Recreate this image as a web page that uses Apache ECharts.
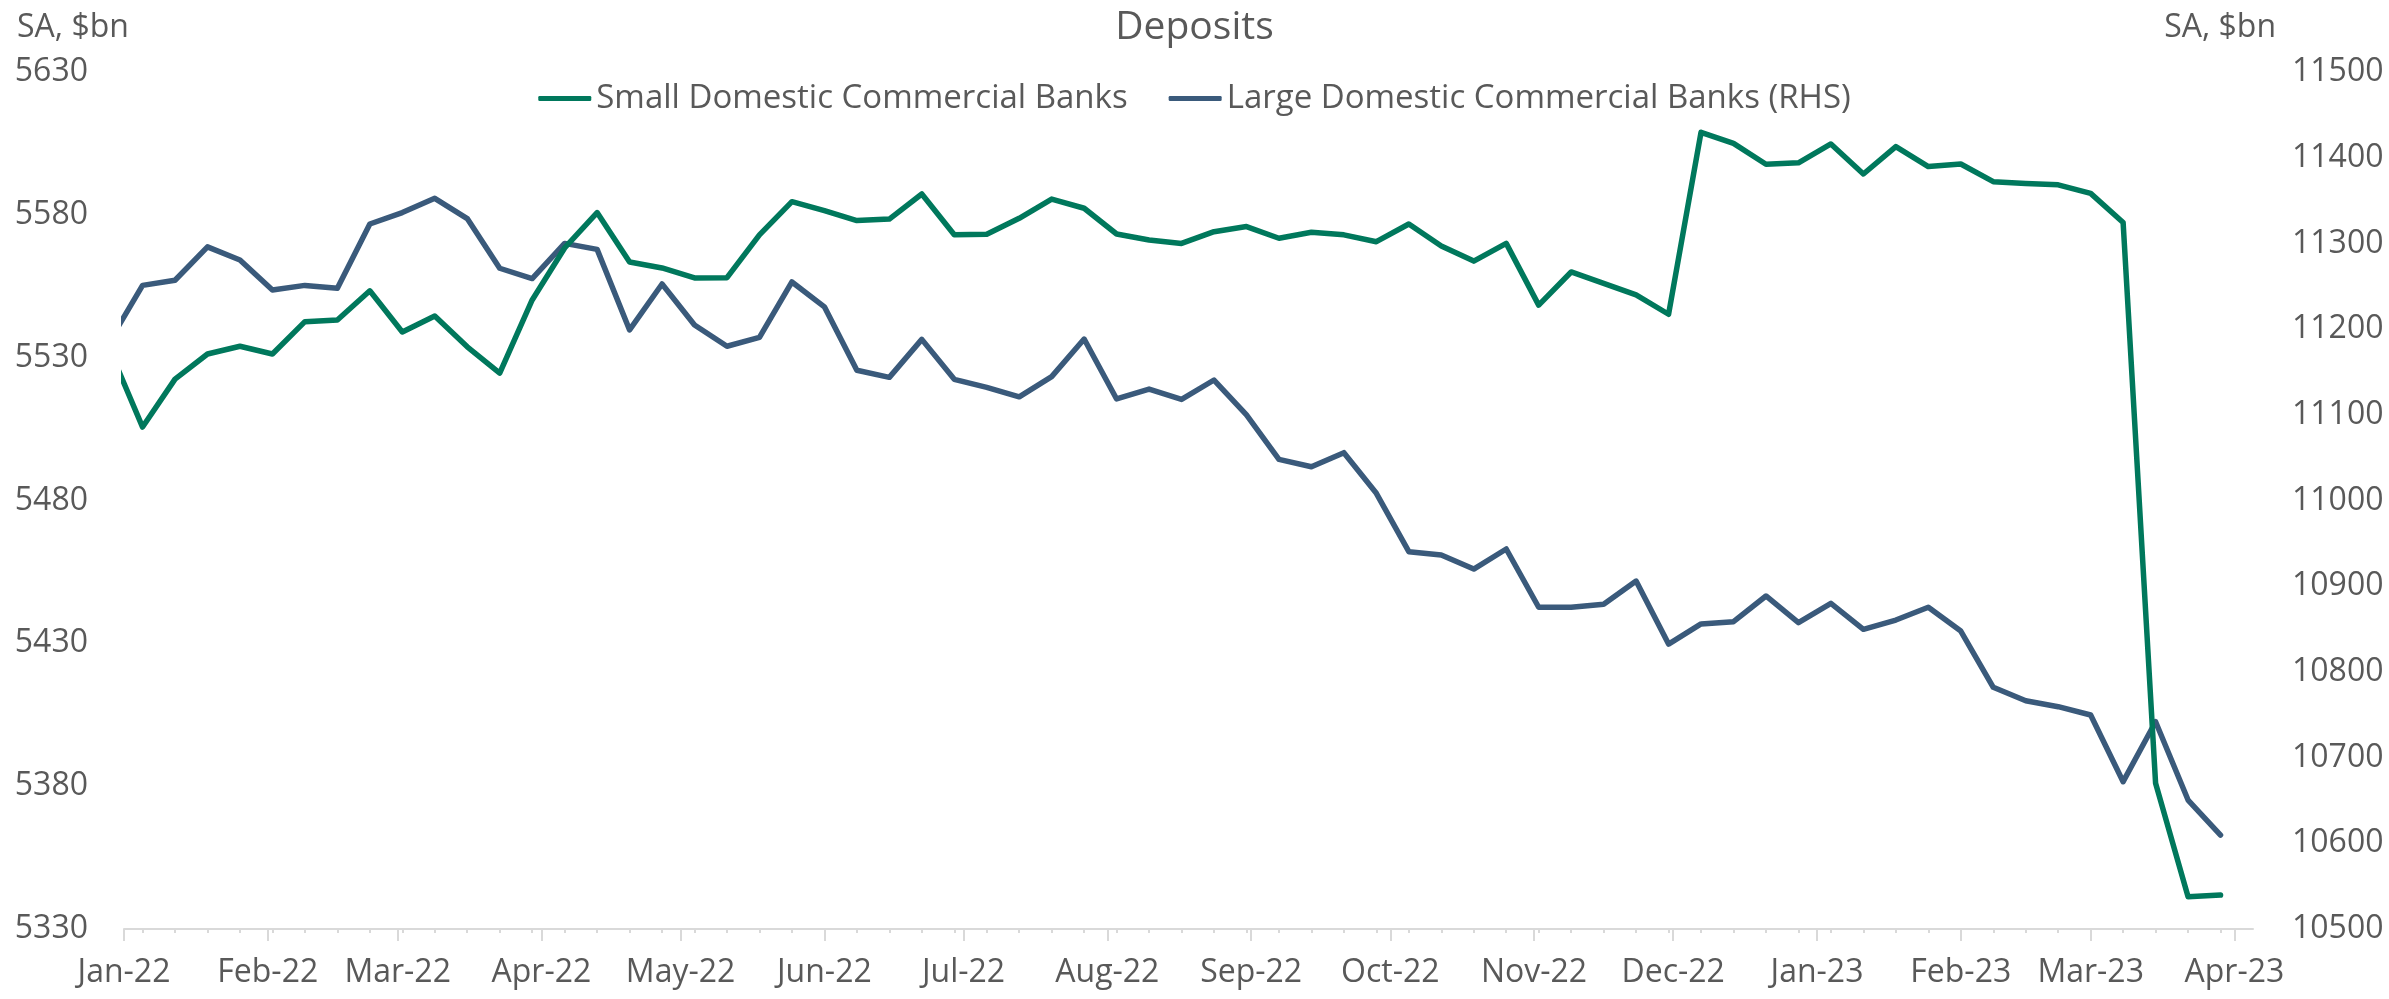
<!DOCTYPE html>
<html><head><meta charset="utf-8">
<script src="https://cdn.jsdelivr.net/npm/echarts@6/dist/echarts.min.js"></script>
<style>html,body{margin:0;padding:0;background:#fff}#c{width:2389px;height:999px}</style>
</head><body><div id="c"></div>
<script>
// ---- Data (weekly, Wednesdays; $bn, seasonally adjusted) ----
const weekDates = ['2021-12-29','2022-01-05','2022-01-12','2022-01-19','2022-01-26','2022-02-02','2022-02-09','2022-02-16','2022-02-23','2022-03-02','2022-03-09','2022-03-16','2022-03-23','2022-03-30','2022-04-06','2022-04-13','2022-04-20','2022-04-27','2022-05-04','2022-05-11','2022-05-18','2022-05-25','2022-06-01','2022-06-08','2022-06-15','2022-06-22','2022-06-29','2022-07-06','2022-07-13','2022-07-20','2022-07-27','2022-08-03','2022-08-10','2022-08-17','2022-08-24','2022-08-31','2022-09-07','2022-09-14','2022-09-21','2022-09-28','2022-10-05','2022-10-12','2022-10-19','2022-10-26','2022-11-02','2022-11-09','2022-11-16','2022-11-23','2022-11-30','2022-12-07','2022-12-14','2022-12-21','2022-12-28','2023-01-04','2023-01-11','2023-01-18','2023-01-25','2023-02-01','2023-02-08','2023-02-15','2023-02-22','2023-03-01','2023-03-08','2023-03-15','2023-03-22','2023-03-29'];

const smallBanks = [5532.5,5505.7,5522.5,5531.3,5534.0,5531.3,5542.6,5543.2,5553.4,5539.0,5544.6,5533.8,5524.6,5550.2,5568.4,5580.8,5563.5,5561.4,5557.9,5558.0,5573.0,5584.6,5581.5,5578.0,5578.5,5587.3,5573.0,5573.2,5578.8,5585.5,5582.3,5573.3,5571.2,5570.0,5574.1,5575.9,5571.8,5573.9,5573.0,5570.6,5576.8,5569.1,5563.8,5570.0,5548.4,5560.0,5556.0,5552.0,5545.2,5608.9,5605.0,5597.7,5598.2,5604.8,5594.3,5603.9,5596.9,5597.8,5591.6,5591.0,5590.5,5587.5,5577.3,5381.0,5341.3,5341.9];

const largeBanks = [11187,11251,11257,11296,11280.6,11245.6,11251,11247.6,11322.6,11336,11352.6,11329,11271,11259,11300,11293,11199,11252.6,11204.8,11180,11190.4,11255,11226,11152,11143.7,11188,11141.4,11132,11121,11144.5,11188.4,11118.5,11130,11118,11140.6,11099.8,11048,11039.4,11055.8,11008.4,10940.3,10936.4,10920,10943.4,10875.4,10875.4,10879,10906,10832.5,10856,10858.6,10888.6,10857.4,10880,10849.7,10860.5,10875.4,10847.7,10782,10766.4,10759.4,10749.7,10671.9,10741.9,10650.5,10609.6];

const monthTicks = ['2022-01-01','2022-02-01','2022-03-01','2022-04-01','2022-05-01','2022-06-01','2022-07-01','2022-08-01','2022-09-01','2022-10-01','2022-11-01','2022-12-01','2023-01-01','2023-02-01','2023-03-01','2023-04-01'];
const monthLabels = ['Jan-22','Feb-22','Mar-22','Apr-22','May-22','Jun-22','Jul-22','Aug-22','Sep-22','Oct-22','Nov-22','Dec-22','Jan-23','Feb-23','Mar-23','Apr-23'];

const seriesNames = ['Small Domestic Commercial Banks', 'Large Domestic Commercial Banks (RHS)'];
const axisStart = '2022-01-01';
const axisEnd = '2023-04-05';

// ---- helpers ----
function ts(s){ const p = s.split('-').map(Number); return Date.UTC(p[0], p[1]-1, p[2]); }
const monthTs = monthTicks.map(ts);
const xMin = ts(axisStart), xMax = ts(axisEnd);
const weekTs = weekDates.map(ts).filter(t => t >= xMin && t <= xMax);

const GREEN = '#00785C', BLUE = '#3A5A7B', TXT = '#595959', AX = '#D9D9D9';
const FONT = "'Open Sans', sans-serif";
const plain = v => String(v);

const chart = echarts.init(document.getElementById('c'), null, {renderer: 'canvas'});
chart.setOption({
  animation: false,
  backgroundColor: '#ffffff',
  textStyle: {fontFamily: FONT, color: TXT},
  title: [
    {text: 'Deposits', left: 'center', top: 8, padding: 0,
     textStyle: {fontFamily: FONT, fontSize: 39, fontWeight: 'normal', color: TXT}},
    {text: 'SA, $bn', left: 17, top: 12, padding: 0,
     textStyle: {fontFamily: FONT, fontSize: 32, fontWeight: 'normal', color: TXT}},
    {text: 'SA, $bn', right: 113, top: 12, padding: 0,
     textStyle: {fontFamily: FONT, fontSize: 32, fontWeight: 'normal', color: TXT}}
  ],
  legend: {
    top: 82, left: 'center', padding: 0, itemGap: 41,
    itemWidth: 53, itemHeight: 5, icon: 'roundRect',
    textStyle: {fontFamily: FONT, fontSize: 33, color: TXT},
    data: seriesNames
  },
  grid: {left: 124, right: 136, top: 72, bottom: 70, containLabel: false},
  xAxis: [
    {
      type: 'value', min: xMin, max: xMax, position: 'bottom',
      axisLine: {show: true, lineStyle: {color: AX, width: 2}},
      axisTick: {show: true, length: 12, customValues: monthTs, lineStyle: {color: AX, width: 2}},
      axisLabel: {
        customValues: monthTs, fontFamily: FONT, fontSize: 32, color: TXT, margin: 28,
        showMinLabel: true, showMaxLabel: true,
        formatter: function(v){
          let best = 0, bd = Infinity;
          monthTs.forEach((t, i) => { const d = Math.abs(t - v); if (d < bd) { bd = d; best = i; } });
          return monthLabels[best];
        }
      },
      splitLine: {show: false}
    },
    {
      type: 'value', min: xMin, max: xMax, position: 'bottom',
      axisLine: {show: false},
      axisTick: {show: true, length: 4, customValues: weekTs, lineStyle: {color: AX, width: 2}},
      axisLabel: {show: false},
      splitLine: {show: false}
    }
  ],
  yAxis: [
    {
      type: 'value', position: 'left', min: 5330, max: 5630, interval: 50,
      axisLine: {show: false}, axisTick: {show: false}, splitLine: {show: false},
      axisLabel: {fontFamily: FONT, fontSize: 32, color: TXT, margin: 36, formatter: plain}
    },
    {
      type: 'value', position: 'right', min: 10500, max: 11500, interval: 100,
      axisLine: {show: false}, axisTick: {show: false}, splitLine: {show: false},
      axisLabel: {fontFamily: FONT, fontSize: 32, color: TXT, margin: 39, formatter: plain}
    }
  ],
  series: [
    {
      name: seriesNames[0], type: 'line', xAxisIndex: 0, yAxisIndex: 0,
      data: weekDates.map((d, i) => [ts(d), smallBanks[i]]),
      showSymbol: false, symbol: 'none', clip: true, z: 3,
      lineStyle: {color: GREEN, width: 5.5, join: 'round', cap: 'round'},
      itemStyle: {color: GREEN}
    },
    {
      name: seriesNames[1], type: 'line', xAxisIndex: 0, yAxisIndex: 1,
      data: weekDates.map((d, i) => [ts(d), largeBanks[i]]),
      showSymbol: false, symbol: 'none', clip: true, z: 2,
      lineStyle: {color: BLUE, width: 5.5, join: 'round', cap: 'round'},
      itemStyle: {color: BLUE}
    }
  ]
});
</script>
</body></html>
